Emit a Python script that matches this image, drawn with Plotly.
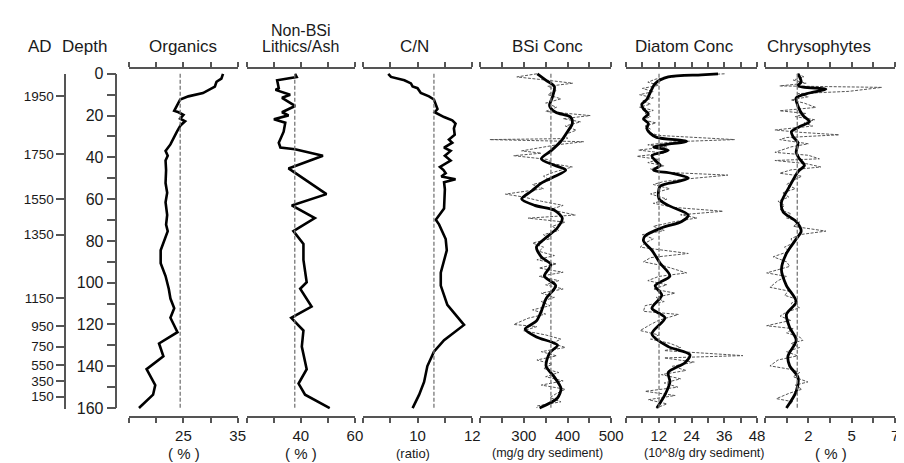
import plotly.graph_objects as go

# ---------------- data ----------------
org_depth = [0, 2.3, 3.8, 6.1, 9.2, 10.8, 12.3, 15.4, 17.7, 18.4, 19.7, 21.5, 22.7, 24.6, 27.7, 33.8, 36.9, 39.2,
             41.5, 46.1, 52.3, 56.9, 61.5, 67.6, 72.2, 75.3, 79.9, 84.5, 90.7, 96.8, 103.0, 107.6, 112.2, 116.8,
             123.7, 129.1, 135.2, 141.4, 149.0, 153.6, 160]
org_val = [32.3, 32.0, 31.1, 30.8, 28.6, 25.9, 24.4, 23.8, 23.3, 24.1, 25.0, 24.4, 25.3, 24.5, 23.8, 22.6, 21.7,
           22.1, 21.7, 21.8, 21.7, 22.0, 21.7, 22.0, 21.8, 22.1, 21.4, 20.8, 20.8, 21.7, 22.3, 22.6, 23.3, 22.6,
           23.9, 20.5, 21.3, 18.2, 19.8, 19.4, 16.8]

lith_depth = [0, 1.5, 3.1, 6.9, 7.7, 10.0, 11.5, 15.4, 18.4, 19.9, 21.8, 23.4, 27.7, 33.0, 35.3, 36.1, 39.2, 45.3,
              57.6, 63.0, 69.1, 75.3, 81.4, 89.1, 99.8, 102.9, 111.4, 116.8, 122.9, 130.6, 141.4, 148.3, 153.6, 160]
lith_val = [37.9, 38.5, 31.3, 31.9, 30.7, 36.1, 33.1, 37.9, 33.1, 35.5, 30.1, 34.3, 33.7, 31.9, 32.5, 37.9, 48.2,
            35.5, 49.5, 36.7, 45.2, 37.3, 41.0, 41.0, 42.2, 39.8, 44.0, 36.5, 41.0, 40.4, 42.2, 39.2, 41.6, 50.7]

cn_depth = [0, 1.5, 3.1, 4.6, 6.1, 6.9, 9.2, 10.8, 12.3, 15.4, 16.9, 18.4, 20.7, 22.3, 23.8, 26.1, 29.2, 31.5, 33.0,
            35.3, 36.9, 39.2, 41.5, 44.6, 46.1, 47.6, 49.2, 50.5, 51.9, 55.3, 64.5, 69.9, 72.2, 79.1, 84.5, 95.2,
            101.4, 110.6, 120.2, 127.5, 133.0, 139.9, 147.5, 153.6, 160]
cn_val = [8.93, 9.03, 9.52, 9.76, 9.82, 10.0, 10.12, 10.42, 10.6, 10.67, 10.73, 10.63, 10.97, 11.27, 11.39, 11.33,
          11.36, 11.15, 11.27, 10.97, 11.21, 11.0, 11.21, 10.82, 10.95, 11.03, 10.87, 11.39, 10.97, 11.0, 10.97,
          10.67, 10.79, 11.03, 11.07, 10.85, 10.85, 11.09, 11.70, 10.97, 10.6, 10.36, 10.24, 10.06, 9.82]

bsi_raw_depth = [0, 1.5, 3, 4.5, 6, 8, 10, 12, 14, 16, 18, 20, 21.5, 23, 25, 27, 29, 31, 31.5, 32.5, 34, 36.9, 38,
                 39.2, 41, 43, 44.6, 47, 49, 51, 53, 55, 57.6, 59, 61, 63, 65, 67.6, 69.1, 71, 73, 75, 77, 79, 81,
                 83, 85, 87, 89, 91, 93, 95, 97, 99, 101, 103, 105, 107, 109, 111, 113, 115, 117, 120, 121, 123,
                 125, 127, 129, 131, 133, 135, 137, 139, 141, 143, 145, 147, 149, 151, 153, 155, 157, 159, 160]
bsi_raw_val = [330, 284, 350, 412, 355, 375, 355, 385, 350, 375, 350, 452, 390, 430, 395, 420, 395, 400, 222, 437,
               375, 295, 340, 277, 355, 365, 411, 370, 345, 360, 320, 345, 258, 300, 340, 390, 360, 418, 310, 395,
               365, 380, 345, 360, 320, 345, 335, 370, 330, 375, 335, 390, 335, 380, 350, 390, 340, 370, 340, 360,
               320, 350, 310, 277, 330, 300, 350, 385, 365, 395, 340, 375, 330, 365, 345, 380, 350, 390, 340, 395,
               375, 360, 385, 330, 330]
bsi_sm_depth = [0, 3.1, 6.1, 10.8, 15.4, 18.4, 20.7, 23.8, 27.7, 32.3, 36.9, 40.7, 43.8, 46.1, 49.2, 52.3, 56.1,
                59.9, 63.0, 65.3, 69.1, 73.7, 79.1, 82.9, 87.6, 91.4, 96.8, 101.4, 107.6, 113.7, 118.3, 122.2,
                126.0, 128.3, 129.9, 133.7, 139.9, 145.2, 150.6, 155.2, 160]
bsi_sm_val = [331, 351, 370, 366, 359, 373, 407, 411, 400, 385, 362, 340, 370, 396, 370, 340, 318, 295, 325, 370,
              388, 377, 347, 329, 340, 362, 347, 373, 351, 340, 329, 303, 329, 362, 377, 359, 351, 370, 385, 377, 336]

dia_raw_depth = [0, 1, 2.5, 4, 5.5, 7, 8.5, 10, 11.5, 13, 14.5, 16, 17.5, 19, 20.5, 22, 23.5, 25, 26.5, 28, 29.5,
                 31.5, 32.5, 34, 35, 36.5, 38, 39.5, 41, 42.5, 44, 45.5, 47, 48.5, 50, 51.5, 53, 55, 57.5, 60, 62,
                 64, 65.8, 67.5, 69, 71, 73, 75, 77, 79, 81, 83, 86, 88, 90, 92, 95.3, 97, 99, 101, 103, 105, 107,
                 109, 111, 113.7, 115.2, 118, 120, 122.9, 125, 127, 129, 131, 132.5, 134.9, 136, 138, 140, 142, 144,
                 146, 148, 150, 152, 154, 156, 158, 160]
dia_raw_val = [36.1, 20, 11, 8, 12, 6, 10, 5, 10, 6, 9, 5, 10, 7, 9, 6, 11, 7, 9, 8, 12, 39.8, 18, 8, 15, 4.6, 14,
               4.0, 12, 8, 14, 9, 12, 37.3, 25, 14, 10, 16, 9, 15, 10, 18, 35.5, 20, 26, 17, 10, 14, 6, 10, 7, 5.2,
               22.8, 9, 6.4, 14, 22.2, 12, 8, 15, 10, 18, 11, 14, 7, 6.4, 19.2, 12, 9, 5.2, 12, 9, 16, 20, 14,
               42.8, 14, 25, 17, 22, 13, 20, 14, 19, 7, 18, 8.2, 15, 11]
dia_sm_depth = [0, 0.5, 1.5, 4.6, 9.2, 12.3, 14.6, 16.9, 19.2, 21.5, 23.8, 26.1, 28.4, 30.4, 32.3, 33.8, 35.0,
                36.6, 39.2, 41.5, 43.8, 46.1, 47.6, 49.9, 51.5, 53.8, 59.9, 63.0, 67.6, 70.7, 73.7, 77.6, 79.9,
                84.5, 90.7, 96.8, 101.4, 106.0, 112.2, 116.8, 124.5, 130.6, 134.5, 138.3, 142.9, 147.5, 153.6, 160]
dia_sm_val = [33.7, 27.6, 15.5, 10.7, 8.8, 7.6, 5.8, 6.4, 8.2, 6.4, 8.2, 7.6, 8.8, 11.2, 22.2, 14.9, 10.1, 15.5,
              9.5, 10.7, 12.5, 10.1, 16.7, 22.8, 19.2, 12.5, 12.1, 15.5, 22.8, 20.4, 13.1, 7.0, 6.4, 9.5, 12.5,
              16.1, 10.7, 13.1, 9.5, 14.3, 9.5, 15.5, 23.4, 21.6, 15.5, 16.1, 14.3, 11.3]

chr_raw_depth = [0, 1.5, 3, 4.5, 5.8, 6.5, 8.4, 9.5, 11, 12.5, 14, 16.1, 17.7, 19, 20.5, 22, 23.5, 25, 26.9, 28,
                 29.2, 30.5, 31.5, 33.5, 35, 37.6, 39, 40.7, 41.5, 43, 44.6, 46, 47.6, 49, 51, 53, 55, 57, 59, 61,
                 63, 65, 67, 69, 71, 73, 75.3, 77, 79, 81, 83, 85, 87.6, 90, 92.2, 95.3, 97, 99, 102.2, 104, 106,
                 108, 110, 112, 114, 116, 118, 120.6, 122, 124, 126, 127.6, 129, 131, 133, 135, 137, 139.8, 141.5,
                 143, 145, 147.5, 149, 151, 153, 155.5, 157, 159, 160]
chr_raw_val = [1.5, 1.8, 1.3, 1.9, 0.68, 5.39, 3.87, 1.5, 2.0, 1.2, 1.8, 2.35, 0.68, 1.9, 1.4, 2.3, 1.8, 2.2, 0.46,
               1.6, 3.42, 1.0, 0.68, 2.0, 1.2, 0.46, 2.0, 2.51, 0.46, 1.9, 2.58, 1.2, 0.68, 1.7, 1.3, 1.0, 1.4,
               0.8, 1.1, 0.6, 0.9, 0.7, 1.2, 1.0, 1.6, 1.3, 2.81, 1.6, 1.2, 1.3, 0.9, 1.1, 0.38, 1.0, 1.14, 0.08,
               1.0, 0.6, 0.23, 1.1, 0.9, 1.5, 1.2, 1.6, 1.0, 0.7, 1.2, 0.08, 1.3, 1.0, 1.6, 1.75, 1.2, 1.6, 1.0,
               1.5, 0.6, 0.23, 1.2, 1.6, 1.3, 1.98, 1.4, 1.7, 1.1, 0.53, 1.3, 1.0, 1.0]
chr_sm_depth = [0, 3.8, 5.8, 7.4, 9.2, 11.5, 15.4, 19.9, 23.0, 25.3, 27.7, 30.0, 33.0, 37.6, 40.7, 43.8, 46.9,
                53.8, 61.5, 66.1, 70.7, 75.3, 79.1, 86.0, 93.7, 101.4, 109.1, 115.2, 121.4, 127.5, 135.2, 139.8,
                145.2, 152.1, 160]
chr_sm_val = [1.52, 1.67, 1.52, 2.81, 2.05, 1.44, 1.52, 1.75, 2.05, 1.59, 1.22, 1.29, 1.52, 1.44, 1.59, 1.82,
              1.52, 1.14, 0.76, 0.84, 1.44, 1.67, 1.44, 0.99, 0.76, 0.99, 1.44, 0.99, 1.14, 1.44, 1.06, 1.14,
              1.52, 1.44, 0.99]

# panel means (dashed reference lines)
means = [24.4, 37.8, 10.6, 362, 12.1, 1.49]

# axis ticks
panel_titles = ["Organics", "Non-BSi<br>Lithics/Ash", "C/N", "BSi Conc", "Diatom Conc", "Chrysophytes"]
panel_units = ["( % )", "( % )", "(ratio)", "(mg/g dry sediment)", "(10^8/g dry sediment)", "( % )"]
panel_ranges = [[15, 35], [20, 60], [8, 12], [200, 500], [0, 48], [0, 6]]
panel_tickvals = [[15, 20, 25, 30, 35], [20, 30, 40, 50, 60], [8, 9, 10, 11, 12],
                  [200, 250, 300, 350, 400, 450, 500], [0, 6, 12, 18, 24, 30, 36, 42, 48],
                  [0, 1, 2, 3, 4, 5, 6]]
panel_ticktext = [["", "", "25", "", "35"], ["", "", "40", "", "60"], ["", "", "10", "", "12"],
                  ["", "", "300", "", "400", "", "500"], ["", "", "12", "", "24", "", "36", "", "48"],
                  ["", "", "2", "", "5", "", "7"]]
depth_ticks = [0, 20, 40, 60, 80, 100, 120, 140, 160]
depth_minor = [10, 30, 50, 70, 90, 110, 130, 150]
ad_labels = ["1950", "1750", "1550", "1350", "1150", "950", "750", "550", "350", "150"]
ad_depths = [10.6, 38.3, 60.0, 77.0, 107.5, 120.7, 130.6, 139.6, 147.2, 154.5]

# ---------------- layout geometry ----------------
W, H = 904, 463
panel_px = [(123, 233), (242, 352), (360, 471), (479, 612), (627, 760), (768, 900)]
FONT = "Liberation Sans, Arial, Helvetica, sans-serif"
AXC = "#555555"
TXT = "#1a1a1a"

fig = go.Figure()

line_series = [(org_val, org_depth), (lith_val, lith_depth), (cn_val, cn_depth)]
raw_series = [(bsi_raw_val, bsi_raw_depth), (dia_raw_val, dia_raw_depth), (chr_raw_val, chr_raw_depth)]
sm_series = [(bsi_sm_val, bsi_sm_depth), (dia_sm_val, dia_sm_depth), (chr_sm_val, chr_sm_depth)]

for i in range(6):
    xa = "x" if i == 0 else f"x{i+1}"
    if i < 3:
        xv, yv = line_series[i]
        fig.add_trace(go.Scatter(x=xv, y=yv, xaxis=xa, yaxis="y", mode="lines",
                                 line=dict(color="black", width=2.6), showlegend=False, hoverinfo="skip"))
    else:
        xv, yv = raw_series[i - 3]
        fig.add_trace(go.Scatter(x=xv, y=yv, xaxis=xa, yaxis="y", mode="lines",
                                 line=dict(color="#555555", width=1, dash="3px,1.5px"),
                                 showlegend=False, hoverinfo="skip"))
        xv, yv = sm_series[i - 3]
        fig.add_trace(go.Scatter(x=xv, y=yv, xaxis=xa, yaxis="y", mode="lines",
                                 line=dict(color="black", width=2.8, shape="spline", smoothing=0.8),
                                 showlegend=False, hoverinfo="skip"))
    fig.add_shape(type="line", xref=xa, yref="y", x0=means[i], x1=means[i], y0=0, y1=160,
                  line=dict(color="#777777", width=1.3, dash="4px,2px"))

# dummy traces (on a hidden x axis) so the depth / AD axes render
fig.add_trace(go.Scatter(x=[None], y=[None], xaxis="x7", yaxis="y2", showlegend=False, hoverinfo="skip"))
fig.add_trace(go.Scatter(x=[None], y=[None], xaxis="x7", yaxis="y3", showlegend=False, hoverinfo="skip"))

y_top_px, y_bot_px = 55, 415
ppu = (407 - 60) / 160.0
y_range = [160 + (y_bot_px - 407) / ppu, 0 - (60 - y_top_px) / ppu]

layout = dict(
    width=W, height=H, margin=dict(l=0, r=0, t=0, b=0),
    paper_bgcolor="white", plot_bgcolor="rgba(0,0,0,0)",
    font=dict(family=FONT, color=TXT, size=16),
    showlegend=False,
    yaxis=dict(domain=[1 - y_bot_px / H, 1 - y_top_px / H], range=y_range, visible=False,
               showgrid=False, zeroline=False),
    xaxis7=dict(domain=[0, 0.02], anchor="y2", visible=False, range=[0, 1]),
    yaxis2=dict(domain=[1 - 407 / H, 1 - 60 / H], range=[160, 0], anchor="free", position=110 / W,
                side="left", showline=True, linecolor=AXC, linewidth=1.5, ticks="outside", ticklen=9,
                tickwidth=1.5, tickcolor=AXC, tickvals=depth_ticks, ticktext=[str(v) for v in depth_ticks],
                minor=dict(tickvals=depth_minor, ticks="outside", ticklen=9, tickwidth=1.5, tickcolor=AXC),
                showgrid=False, zeroline=False, tickfont=dict(size=16)),
    yaxis3=dict(domain=[1 - 408 / H, 1 - 60 / H], range=[160 + 1 / ppu, 0], anchor="free", position=58 / W,
                side="left", showline=True, linecolor=AXC, linewidth=1.5, ticks="outside", ticklen=8,
                tickwidth=1.5, tickcolor=AXC, tickvals=ad_depths, ticktext=ad_labels,
                showgrid=False, zeroline=False, tickfont=dict(size=13.5)),
)
for i in range(6):
    key = "xaxis" if i == 0 else f"xaxis{i+1}"
    x0, x1 = panel_px[i]
    layout[key] = dict(domain=[x0 / W, x1 / W], anchor="y", range=panel_ranges[i],
                       showline=True, linecolor=AXC, linewidth=1.5, mirror="ticks",
                       ticks="outside", ticklen=5, tickwidth=1.5, tickcolor=AXC,
                       tickvals=panel_tickvals[i], ticktext=panel_ticktext[i],
                       showgrid=False, zeroline=False, tickfont=dict(size=15))
fig.update_layout(**layout)

# titles
def ann(x_px, y_px, text, size):
    fig.add_annotation(x=x_px / W, y=1 - y_px / H, xref="paper", yref="paper", text=text,
                       showarrow=False, font=dict(size=size, family=FONT, color=TXT),
                       xanchor="center", yanchor="middle")

ann(32, 32, "AD", 17)
ann(78, 32, "Depth", 17)
title_x = [178, 297, 412, 547, 686, 823]
for i in range(6):
    if i == 1:
        ann(title_x[i], 15, "Non-BSi", 16)
        ann(title_x[i], 32, "Lithics/Ash", 16)
    else:
        ann(title_x[i], 32, panel_titles[i], 17)

unit_x = [179, 297, 411, 547, 707, 835]
unit_size = [15, 15, 13, 12.5, 12.5, 15]
for i in range(6):
    ann(unit_x[i], 454, panel_units[i], unit_size[i])

fig.write_html("out.html")
